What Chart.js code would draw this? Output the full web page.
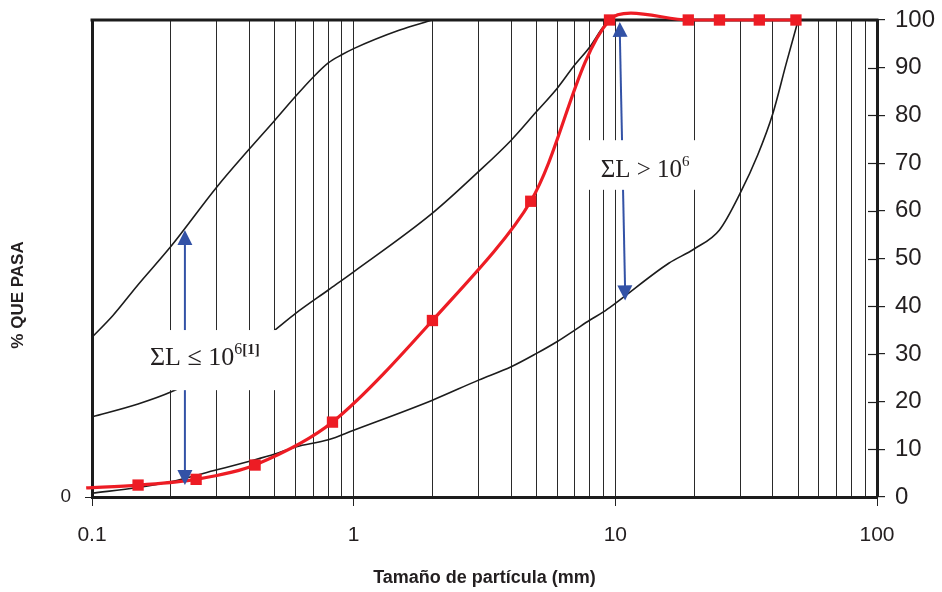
<!DOCTYPE html>
<html><head><meta charset="utf-8">
<script src="https://cdn.jsdelivr.net/npm/chart.js@4/dist/chart.umd.min.js"></script>
<style>html,body{margin:0;padding:0;background:#fff}#wrap{width:942px;height:592px;position:relative}</style>
</head><body><div id="wrap"><canvas id="c"></canvas></div>
<script>
// ---- data ----
const upperSize  = [0.1, 0.12, 0.15, 0.2, 0.3, 0.4, 0.5, 0.6, 0.7, 0.8, 0.9, 1, 1.5, 2];
const upperPass  = [33.5, 38, 44.5, 52.5, 65, 73, 79, 84, 88, 91, 92.7, 94, 97.9, 100];
const middleSize = [0.1, 0.15, 0.2, 0.3, 0.4, 0.5, 0.6, 0.8, 1, 2, 3, 4, 5, 6, 7, 8, 9, 9.6];
const middlePass = [16.8, 19.5, 22, 27, 31, 35, 38.5, 43.4, 47.2, 59.5, 68.2, 74.8, 80.8, 85.7, 90.6, 94.4, 98.6, 100];
const lowerSize  = [0.1, 0.15, 0.2, 0.3, 0.4, 0.5, 0.6, 0.8, 1, 2, 3, 4, 5, 6, 7, 8, 9, 10, 16, 20, 25, 30, 35, 40, 45, 50];
const lowerPass  = [0.8, 2, 3.2, 5.7, 7.5, 9, 10.5, 12, 14, 20.3, 24.5, 27.3, 30.1, 32.6, 35, 37.1, 38.8, 40.6, 49, 52, 56, 63.7, 71.7, 80.4, 90.9, 100];
const sampleSize = [0.095, 0.15, 0.25, 0.42, 0.83, 2, 4.75, 9.5, 19, 25, 35.5, 49];
const samplePass = [1.9, 2.5, 3.7, 6.7, 15.7, 37, 62, 100, 100, 100, 100, 100];
const xMajorTicks = [0.1, 1, 10, 100];
const xMinorSteps = [1, 2, 3, 4, 5, 6, 7, 8, 9];
const yRightTicks = [0, 10, 20, 30, 40, 50, 60, 70, 80, 90, 100];
const yLeftTicks  = [0];
const xTitle = 'Tamaño de partícula (mm)';
const yTitle = '% QUE PASA';

// annotations (in data units)
const arrowLow  = {x1: 0.2265, y1: 56, x2: 0.2265, y2: 2.5};
const arrowHigh = {x1: 10.4, y1: 99.6, x2: 10.9, y2: 41.2};
const boxLow  = {x0: 0.14, x1: 0.546, y0: 22.4, y1: 35, tx: 0.27, ty: 27.7};
const boxHigh = {x0: 7.32, x1: 23.5, y0: 64.4, y1: 74.8, tx: 13.0, ty: 67.1};

const gridValues = [];
xMajorTicks.slice(0, -1).forEach(d => xMinorSteps.forEach(s => gridValues.push(+(d * s).toPrecision(3))));
gridValues.push(xMajorTicks[xMajorTicks.length - 1]);

const pts = (xs, ys) => xs.map((x, i) => ({x: x, y: ys[i]}));
const BLACK = '#1c1c1c', RED = '#ED1C24', BLUE = '#3352A6';
const SANS = "'Liberation Sans', Arial, sans-serif";
const NARROW = "'Liberation Sans Narrow', 'Arial Narrow', 'Liberation Sans', Arial, sans-serif";
const SERIF = "'Liberation Serif', 'Times New Roman', serif";

const decor = {
  id: 'decor',
  beforeDatasetsDraw(chart) {
    const {ctx, chartArea: a} = chart;
    const y2 = chart.scales.y2;
    ctx.save();
    ctx.strokeStyle = BLACK;
    ctx.lineWidth = 3;
    ctx.beginPath(); ctx.moveTo(a.left - 1.5, a.top); ctx.lineTo(a.right + 1.5, a.top); ctx.stroke();
    ctx.lineWidth = 1.2;
    yRightTicks.forEach(v => {
      const y = Math.round(y2.getPixelForValue(v)) + 0.5;
      ctx.beginPath(); ctx.moveTo(a.right - 9, y); ctx.lineTo(a.right, y); ctx.stroke();
    });
    ctx.restore();
  },
  afterDatasetsDraw(chart) {
    const {ctx} = chart;
    const xs = chart.scales.x, ys = chart.scales.y2;
    const px = v => xs.getPixelForValue(v), py = v => ys.getPixelForValue(v);
    ctx.save();
    const head = (tx, ty, fx, fy) => {
      const ang = Math.atan2(ty - fy, tx - fx), L = 15, W = 7.5;
      ctx.beginPath();
      ctx.moveTo(tx, ty);
      ctx.lineTo(tx - L * Math.cos(ang) + W * Math.sin(ang), ty - L * Math.sin(ang) - W * Math.cos(ang));
      ctx.lineTo(tx - L * Math.cos(ang) - W * Math.sin(ang), ty - L * Math.sin(ang) + W * Math.cos(ang));
      ctx.closePath(); ctx.fill();
    };
    [arrowLow, arrowHigh].forEach(ar => {
      const x1 = px(ar.x1), y1 = py(ar.y1), x2 = px(ar.x2), y2 = py(ar.y2);
      ctx.strokeStyle = BLUE; ctx.fillStyle = BLUE; ctx.lineWidth = 2;
      ctx.beginPath(); ctx.moveTo(x1, y1 + 10); ctx.lineTo(x2, y2 - 10); ctx.stroke();
      head(x1, y1, x2, y2); head(x2, y2, x1, y1);
    });
    ctx.fillStyle = '#fff';
    [boxLow, boxHigh].forEach(b => {
      const l = px(b.x0), r = px(b.x1), t = py(b.y1), btm = py(b.y0);
      ctx.fillRect(l, t, r - l, btm - t);
    });
    const drawRuns = (runs, cx, by) => {
      let w = 0;
      runs.forEach(r => { ctx.font = r.font; r.w = ctx.measureText(r.t).width; w += r.w; });
      let x = cx - w / 2;
      ctx.fillStyle = '#231f20'; ctx.textBaseline = 'alphabetic'; ctx.textAlign = 'left';
      runs.forEach(r => { ctx.font = r.font; ctx.fillText(r.t, x, by - (r.up || 0)); x += r.w; });
    };
    drawRuns([
      {t: 'ΣL ≤ 10', font: `26px ${SERIF}`},
      {t: '6', font: `16px ${SERIF}`, up: 11},
      {t: '[1]', font: `bold 15px ${SERIF}`, up: 11}
    ], px(boxLow.tx), py(boxLow.ty));
    drawRuns([
      {t: 'ΣL > 10', font: `25px ${SERIF}`},
      {t: '6', font: `15px ${SERIF}`, up: 11}
    ], px(boxHigh.tx), py(boxHigh.ty));
    ctx.translate(18, 295);
    ctx.rotate(-Math.PI / 2);
    ctx.font = `bold 17px ${SANS}`;
    ctx.fillStyle = '#231f20'; ctx.textAlign = 'center'; ctx.textBaseline = 'middle';
    ctx.fillText(yTitle, 0, 0);
    ctx.restore();
  }
};

const blackLine = (xs, ys) => ({
  data: pts(xs, ys), yAxisID: 'y2', borderColor: BLACK, borderWidth: 1.6,
  pointRadius: 0, cubicInterpolationMode: 'monotone', fill: false
});

const noPadV = s => { s.paddingTop = 0; s.paddingBottom = 0; };

new Chart(document.getElementById('c'), {
  type: 'line',
  data: {
    datasets: [
      {
        data: pts(sampleSize, samplePass), yAxisID: 'y2', borderColor: RED, borderWidth: 3.2,
        backgroundColor: RED, pointStyle: 'rect', pointBorderWidth: 0,
        pointRadius: c => (c.raw && c.raw.x < xMajorTicks[0]) ? 0 : 8,
        pointBackgroundColor: RED, tension: 0.3, capBezierPoints: false, clip: false, fill: false
      },
      blackLine(upperSize, upperPass),
      blackLine(middleSize, middlePass),
      blackLine(lowerSize, lowerPass)
    ]
  },
  options: {
    responsive: true, maintainAspectRatio: false, animation: false, events: [],
    layout: {padding: {top: 20, left: 0, right: 0, bottom: 0}},
    plugins: {legend: {display: false}, tooltip: {enabled: false}},
    scales: {
      x: {
        type: 'logarithmic', position: 'bottom', min: xMajorTicks[0], max: xMajorTicks[xMajorTicks.length - 1],
        afterBuildTicks: s => { s.ticks = gridValues.map(v => ({value: v, major: xMajorTicks.includes(v)})); },
        afterFit: s => { s.height = 95; s.paddingLeft = 0; s.paddingRight = 0; },
        ticks: {
          autoSkip: false, maxRotation: 0, minRotation: 0, padding: 17, color: '#231f20',
          font: {family: NARROW, size: 21},
          callback: v => xMajorTicks.includes(v) ? String(v) : ''
        },
        grid: {
          color: '#2a2a2a', lineWidth: 1, tickLength: 9,
          tickColor: c => (c.tick && xMajorTicks.includes(c.tick.value)) ? '#222' : 'rgba(0,0,0,0)'
        },
        border: {color: BLACK, width: 3},
        title: {display: true, text: xTitle, color: '#231f20', font: {family: NARROW, size: 18, weight: 'bold'}, padding: {top: 0, bottom: 3}}
      },
      y: {
        position: 'left', min: 0, max: 100,
        afterBuildTicks: s => { s.ticks = yLeftTicks.map(v => ({value: v})); },
        afterFit: s => { s.width = 92; noPadV(s); },
        ticks: {padding: 14, color: '#231f20', font: {family: SANS, size: 19}},
        grid: {drawOnChartArea: false, tickLength: 7, color: '#222'},
        border: {color: BLACK, width: 3}
      },
      y2: {
        position: 'right', min: 0, max: 100,
        afterBuildTicks: s => { s.ticks = yRightTicks.map(v => ({value: v})); },
        afterFit: s => { s.width = 65; noPadV(s); },
        ticks: {padding: 10, color: '#231f20', font: {family: SANS, size: 24}},
        grid: {drawOnChartArea: false, tickLength: 8, color: '#222', lineWidth: 1.2},
        border: {color: BLACK, width: 3}
      }
    }
  },
  plugins: [decor]
});
</script></body></html>
